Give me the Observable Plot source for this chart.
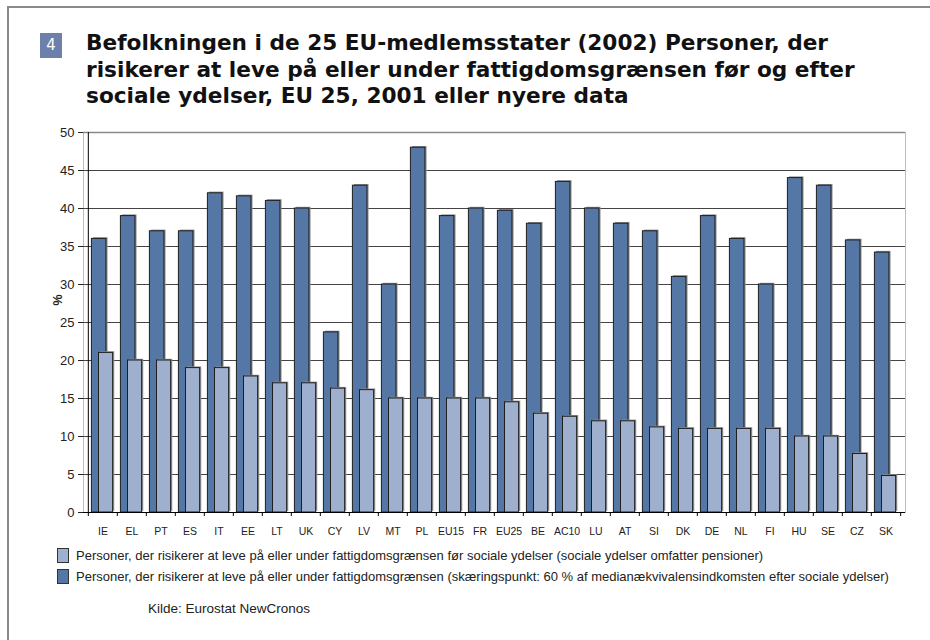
<!DOCTYPE html>
<html><head><meta charset="utf-8">
<script src="https://cdn.jsdelivr.net/npm/d3@7"></script>
<script src="https://cdn.jsdelivr.net/npm/@observablehq/plot@0.6"></script>
<style>
body{margin:0;background:#fff;}
#wrap{position:relative;width:930px;height:640px;overflow:hidden;background:#fff;font-family:"Liberation Sans",Arial,sans-serif;}
#ftop{position:absolute;left:7px;top:6px;width:923px;height:0;border-top:2px solid #8a8a8a;z-index:3;}
#fleft{position:absolute;left:7px;top:6px;width:0;height:634px;border-left:2px solid #8a8a8a;z-index:3;}
#num{position:absolute;left:40px;top:33px;width:22px;height:25px;background:#6d80ab;color:#fff;font:15px "DejaVu Sans",sans-serif;text-align:center;line-height:25px;}
.tl{position:absolute;left:86px;white-space:nowrap;font:bold 21px "DejaVu Sans",sans-serif;color:#111;transform-origin:0 0;line-height:24px;}
#chart{position:absolute;left:0;top:120px;z-index:1;}
.lg{position:absolute;left:57px;height:20px;display:flex;align-items:center;white-space:nowrap;font:13px "Liberation Sans",Arial,sans-serif;color:#222;}
.sw{width:10px;height:13px;border:1px solid #333;margin-right:7px;flex:none;}
#src{position:absolute;left:148px;top:601px;font:13.5px "Liberation Sans",Arial,sans-serif;color:#222;white-space:nowrap;}
</style>
</head><body>
<div id="wrap">
  <div id="ftop"></div><div id="fleft"></div>
  <div id="num"></div>
  <div id="titles"></div>
  <div id="chart"></div>
  <div id="legend"></div>
  <div id="src"></div>
</div>
<script>
const countries = ["IE","EL","PT","ES","IT","EE","LT","UK","CY","LV","MT","PL","EU15","FR","EU25","BE","AC10","LU","AT","SI","DK","DE","NL","FI","HU","SE","CZ","SK"];
const afterValues = [36,39,37,37,42,41.6,41,40,23.7,43,30,48,39,40,39.7,38,43.5,40,38,37,31,39,36,30,44,43,35.8,34.2];
const beforeValues = [21,20,20,19,19,17.9,17,17,16.3,16.1,15,15,15,15,14.5,13,12.6,12,12,11.2,11,11,11,11,10,10,7.7,4.8];
const yTicks = [0,5,10,15,20,25,30,35,40,45,50];
const titleNumber = "4";
const titleLines = [
  "Befolkningen i de 25 EU-medlemsstater (2002) Personer, der",
  "risikerer at leve på eller under fattigdomsgrænsen før og efter",
  "sociale ydelser, EU 25, 2001 eller nyere data"
];
const legendLabels = [
  "Personer, der risikerer at leve på eller under fattigdomsgrænsen før sociale ydelser (sociale ydelser omfatter pensioner)",
  "Personer, der risikerer at leve på eller under fattigdomsgrænsen (skæringspunkt: 60 % af medianækvivalensindkomsten efter sociale ydelser)"
];
const yLabel = "%";
const sourceText = "Kilde: Eurostat NewCronos";

const lightColor = "#9fb0cf", darkColor = "#5577a6";

document.getElementById("num").textContent = titleNumber;
const tdiv = document.getElementById("titles");
const tops = [31, 57.5, 84];
const els = titleLines.map((t, i) => {
  const s = document.createElement("div");
  s.className = "tl"; s.style.top = tops[i] + "px"; s.textContent = t;
  tdiv.appendChild(s); return s;
});
const sc = 742 / els[0].getBoundingClientRect().width;
els.forEach(e => e.style.transform = `scaleX(${sc})`);

const W = 930, H = 420, ML = 83, MR = 25, MT = 12, MB = 28;
const bw = (W - ML - MR) / countries.length;
const darkRows = countries.map((c, i) => ({country: c, value: afterValues[i]}));
const lightRows = countries.map((c, i) => ({country: c, value: beforeValues[i]}));

const chart = Plot.plot({
  width: W, height: H, marginLeft: ML, marginRight: MR, marginTop: MT, marginBottom: MB,
  style: {fontFamily: "Liberation Sans, Arial, sans-serif", fontSize: "13px", color: "#222", background: "transparent"},
  x: {domain: countries, padding: 0, label: null},
  y: {domain: [0, 50], label: null},
  marks: [
    Plot.frame({stroke: "#bdbdbd"}),
    Plot.ruleY(yTicks.filter(t => t > 0), {stroke: "#444", strokeWidth: 1}),
    Plot.ruleY([50], {stroke: "#8a8a8a", strokeWidth: 1.5}),
    Plot.barY(darkRows, {x: "country", y: "value", fill: "#8f8f8f", dx: 1.6, dy: -1.2, insetLeft: 3.4, insetRight: bw - 18.3}),
    Plot.barY(darkRows, {x: "country", y: "value", fill: darkColor, stroke: "#1e1e1e", strokeWidth: 1, insetLeft: 3.4, insetRight: bw - 18.3}),
    Plot.barY(lightRows, {x: "country", y: "value", fill: "#8f8f8f", dx: 1.6, dy: -1.2, insetLeft: 10.5, insetRight: bw - 25}),
    Plot.barY(lightRows, {x: "country", y: "value", fill: lightColor, stroke: "#1e1e1e", strokeWidth: 1, insetLeft: 10.5, insetRight: bw - 25}),
    Plot.ruleY([0], {stroke: "#000", strokeWidth: 1}),
    Plot.ruleX([countries[0]], {dx: -bw / 2, stroke: "#000", strokeWidth: 1}),
    Plot.ruleX(countries, {x: d => d, y1: 0, y2: 0, insetBottom: -4, dx: -bw / 2, stroke: "#000"}),
    Plot.ruleX([countries[countries.length - 1]], {y1: 0, y2: 0, insetBottom: -4, dx: bw / 2, stroke: "#000"}),
    Plot.axisX({tickSize: 0, tickPadding: 15, fontSize: 10.5, fontFamily: "Liberation Sans Narrow, Liberation Sans, Arial, sans-serif", fill: "#222", label: null}),
    Plot.axisY({ticks: yTicks, tickSize: 5, tickPadding: 4, fontSize: 13, fill: "#222", label: null}),
    Plot.text([yLabel], {text: d => d, frameAnchor: "left", dx: -26, dy: -17, rotate: -90, fontSize: 12.5, fontWeight: "bold", fill: "#222"})
  ]
});
document.getElementById("chart").appendChild(chart);

const lg = document.getElementById("legend");
[[lightColor, 545], [darkColor, 566]].forEach(([col, top], i) => {
  const r = document.createElement("div");
  r.className = "lg"; r.style.top = top + "px";
  const sw = document.createElement("div"); sw.className = "sw"; sw.style.background = col;
  const tx = document.createElement("span"); tx.textContent = legendLabels[i];
  r.appendChild(sw); r.appendChild(tx); lg.appendChild(r);
});
document.getElementById("src").textContent = sourceText;
</script>
</body></html>
